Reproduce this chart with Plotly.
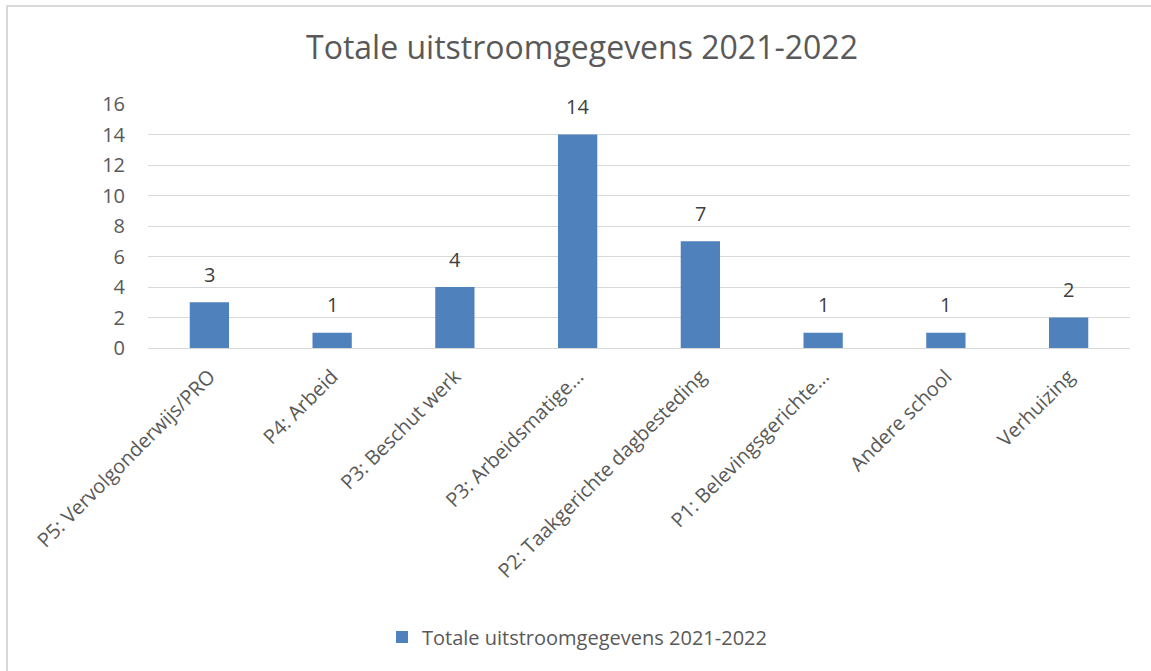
import plotly.graph_objects as go

categories = ["P5: Vervolgonderwijs/PRO", "P4: Arbeid", "P3: Beschut werk", "P3: Arbeidsmatige…",
              "P2: Taakgerichte dagbesteding", "P1: Belevingsgerichte…", "Andere school", "Verhuizing"]
values = [3, 1, 4, 14, 7, 1, 1, 2]
series_name = "Totale uitstroomgegevens 2021-2022"
y_ticks = [0, 2, 4, 6, 8, 10, 12, 14, 16]

W, H = 1151, 671
L, R, T, B = 148, 1130, 104, 348

def px(x):
    return (x - L) / (R - L)

def py(y):
    return (B - y) / (B - T)

FONT = "Open Sans"

fig = go.Figure()
fig.add_trace(go.Bar(
    x=categories, y=values, name=series_name,
    marker=dict(color="#4F81BD", line=dict(width=0)),
    showlegend=True, hoverinfo="x+y",
))

for c, v in zip(categories, values):
    fig.add_annotation(x=c, y=v, text=str(v), showarrow=False, xref="x", yref="y",
                       yanchor="middle", yshift=28,
                       font=dict(size=20, color="#404040", family=FONT))

fig.update_layout(
    width=W, height=H,
    margin=dict(l=L, r=W - R, t=T, b=H - B, pad=0),
    paper_bgcolor="white", plot_bgcolor="white",
    font=dict(family=FONT, color="#595959"),
    bargap=0.68,
    title=dict(text=series_name, x=582 / W, xref="container", xanchor="center",
               y=1 - 48 / H, yanchor="middle", yref="container",
               font=dict(size=32, color="#595959", family=FONT)),
    xaxis=dict(tickangle=-45, tickfont=dict(size=20, color="#595959"),
               showgrid=False, showline=True, linecolor="#D9D9D9", linewidth=1,
               ticks="", automargin=False, ticklabelstandoff=8),
    yaxis=dict(range=[0, 16], tickvals=y_ticks, tickfont=dict(size=20, color="#595959"),
               showgrid=True, gridcolor="#D9D9D9", gridwidth=1, zeroline=False,
               showline=False, ticks="", ticklabelstandoff=22, automargin=False),
    legend=dict(orientation="h", x=px(382), xanchor="left", y=py(637), yanchor="middle",
                font=dict(size=20, color="#595959"), itemwidth=30),
    shapes=[
        dict(type="line", xref="paper", yref="paper", x0=px(7), x1=px(7), y0=py(H + 2), y1=py(5),
             line=dict(color="#D9D9D9", width=2), layer="below"),
        dict(type="line", xref="paper", yref="paper", x0=px(6), x1=px(W + 2), y0=py(6), y1=py(6),
             line=dict(color="#D9D9D9", width=2), layer="below"),
    ],
)

fig.write_html("out.html", config={"displayModeBar": False},
               post_script="document.body.style.margin='0';document.body.style.overflow='hidden';")
